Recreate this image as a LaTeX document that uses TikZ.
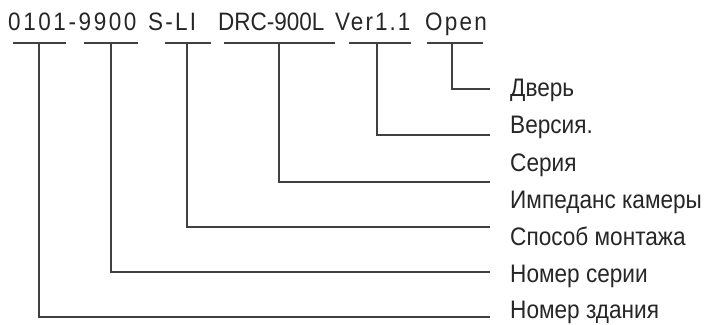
\documentclass[tikz,border=0pt]{standalone}
\usepackage{fontspec}
\setmainfont{Liberation Sans}
\newcommand{\tallt}[1]{\scalebox{1}[1.12]{#1}}
\begin{document}
\begin{tikzpicture}[x=1pt,y=-1pt,
  ln/.style={draw=black!75,line width=1.2pt},
  lbl/.style={anchor=base west,inner sep=0pt,text=black!85,font=\fontsize{22.6}{22.6}\selectfont},
  code/.style={anchor=base west,inner sep=0pt,text=black!85,font=\fontsize{22.5}{22.5}\selectfont}]
\useasboundingbox (0,0) rectangle (704,324);
% code text
\node[code] (c1) at (8,30) {\tallt{\addfontfeature{LetterSpace=11.5}0101-9900}};
\node[code] (c2) at (148,30) {\tallt{\addfontfeature{LetterSpace=10}S-LI}};
\node[code] (c3) at (218,30) {\tallt{DRC-900L}};
\node[code] (c4) at (335,30) {\tallt{\addfontfeature{LetterSpace=9}Ver1.1}};
\node[code] (c5) at (425,30) {\tallt{\addfontfeature{LetterSpace=10}Open}};
% bars
\coordinate (b1l) at (13,43);  \coordinate (b1r) at (66,43);  \coordinate (t1) at (39,43);
\coordinate (b2l) at (84,43);  \coordinate (b2r) at (138,43); \coordinate (t2) at (111,43);
\coordinate (b3l) at (165,43); \coordinate (b3r) at (211,43); \coordinate (t3) at (187,43);
\coordinate (b4l) at (224,43); \coordinate (b4r) at (335,43); \coordinate (t4) at (279,43);
\coordinate (b5l) at (349,43); \coordinate (b5r) at (411,43); \coordinate (t5) at (377,43);
\coordinate (b6l) at (427,43); \coordinate (b6r) at (483,43); \coordinate (t6) at (452,43);
\foreach \i in {1,...,6} \draw[ln] (b\i l) -- (b\i r);
% line ends
\coordinate (e6) at (490,89);
\coordinate (e5) at (490,135);
\coordinate (e4) at (490,182);
\coordinate (e3) at (490,227);
\coordinate (e2) at (490,272);
\coordinate (e1) at (490,317);
\foreach \i in {1,...,6} \draw[ln] (t\i) |- (e\i);
% labels
\node[lbl] (l1) at (510,96) {\tallt{Дверь}};
\node[lbl] (l2) at (510,133.5) {\tallt{Версия.}};
\node[lbl] (l3) at (510,171) {\tallt{Серия}};
\node[lbl] (l4) at (510,208) {\tallt{Импеданс камеры}};
\node[lbl] (l5) at (510,245) {\tallt{Способ монтажа}};
\node[lbl] (l6) at (510,282) {\tallt{Номер серии}};
\node[lbl] (l7) at (510,318.5) {\tallt{Номер здания}};
\end{tikzpicture}
\end{document}
